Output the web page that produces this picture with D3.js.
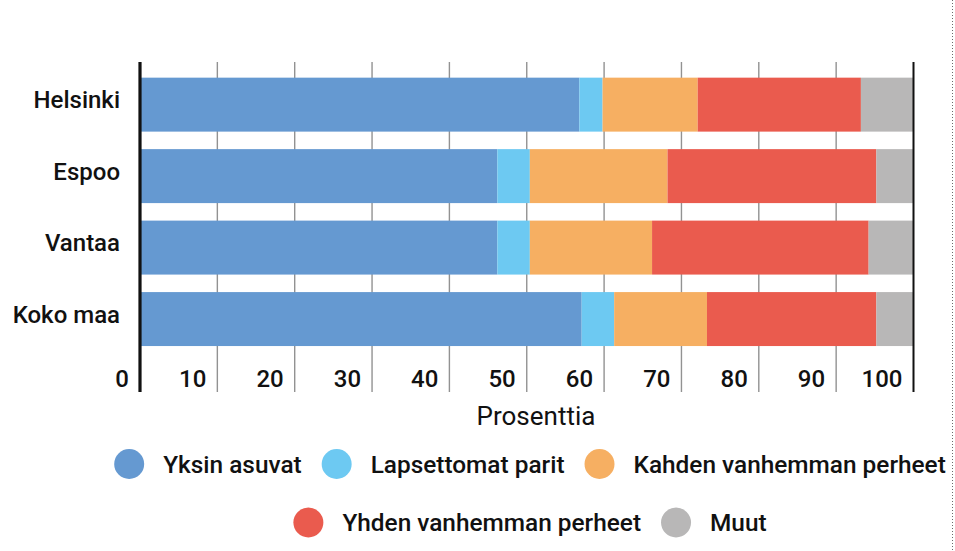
<!DOCTYPE html>
<html>
<head>
<meta charset="utf-8">
<script src="https://cdn.jsdelivr.net/npm/d3@7"></script>
<style>
  html, body { margin: 0; padding: 0; background: #ffffff; }
  svg { display: block; font-family: Roboto, "Noto Sans", sans-serif; }
</style>
</head>
<body>
<svg id="chart" width="955" height="551"></svg>
<script>
const categories = ["Helsinki", "Espoo", "Vantaa", "Koko maa"];
const seriesNames = ["Yksin asuvat", "Lapsettomat parit", "Kahden vanhemman perheet", "Yhden vanhemman perheet", "Muut"];
const yksinAsuvat       = [56.8, 46.2, 46.2, 57.1];
const lapsettomatParit  = [3.0, 4.2, 4.2, 4.2];
const kahdenVanhemman   = [12.3, 17.8, 15.8, 12.0];
const yhdenVanhemman    = [21.1, 27.0, 28.0, 21.9];
const muut              = [6.8, 4.8, 5.8, 4.8];
const tickValues = [0, 10, 20, 30, 40, 50, 60, 70, 80, 90, 100];
const xAxisTitle = "Prosenttia";
const colors = ["#6599d1", "#6dc9f2", "#f6af62", "#ea5b4e", "#b8b7b7"];

const seriesValues = [yksinAsuvat, lapsettomatParit, kahdenVanhemman, yhdenVanhemman, muut];
const rows = categories.map((c, i) => {
  const r = { category: c };
  seriesNames.forEach((s, j) => { r[s] = seriesValues[j][i]; });
  return r;
});

const svg = d3.select("#chart");
const x = d3.scaleLinear().domain([0, 100]).range([140, 913.5]);
const y = d3.scaleBand().domain(categories).range([68.9, 354.8]).paddingInner(0.245).paddingOuter(0.1225);
const color = d3.scaleOrdinal().domain(seriesNames).range(colors);

const stacked = d3.stack().keys(seriesNames)(rows);

// gridlines
const gridTop = 62, gridBottom = 392;
svg.append("g").selectAll("line").data(tickValues.slice(1, -1)).join("line")
  .attr("x1", d => x(d)).attr("x2", d => x(d))
  .attr("y1", gridTop).attr("y2", gridBottom)
  .attr("stroke", "#929292").attr("stroke-width", 1.4);

// bars
svg.append("g").selectAll("g").data(stacked).join("g")
  .attr("fill", d => color(d.key))
  .selectAll("rect").data(d => d).join("rect")
  .attr("x", d => x(d[0]))
  .attr("width", d => x(d[1]) - x(d[0]))
  .attr("y", d => y(d.data.category))
  .attr("height", y.bandwidth());

// axis lines
svg.append("line").attr("x1", x(0)).attr("x2", x(0)).attr("y1", gridTop).attr("y2", gridBottom)
  .attr("stroke", "#111").attr("stroke-width", 3.2);
svg.append("line").attr("x1", x(100)).attr("x2", x(100)).attr("y1", gridTop).attr("y2", gridBottom)
  .attr("stroke", "#111").attr("stroke-width", 2);

// tick labels
svg.append("g").selectAll("text").data(tickValues).join("text")
  .attr("x", d => x(d) - 11)
  .attr("y", 386.5)
  .attr("text-anchor", "end")
  .attr("font-size", 24).attr("font-weight", 500).attr("fill", "#111")
  .text(d => d);

// category labels
svg.append("g").selectAll("text").data(categories).join("text")
  .attr("x", 120)
  .attr("y", d => y(d) + y.bandwidth() / 2 - 5)
  .attr("dy", "0.36em")
  .attr("text-anchor", "end")
  .attr("font-size", 24).attr("font-weight", 500).attr("fill", "#111")
  .text(d => d);

// axis title
svg.append("text").attr("x", 536).attr("y", 425).attr("text-anchor", "middle")
  .attr("font-size", 26).attr("font-weight", 400).attr("fill", "#111").text(xAxisTitle);

// legend
const legendRows = [seriesNames.slice(0, 3), seriesNames.slice(3)];
const legendY = [464, 522.5];
const legendCenter = 530;
legendRows.forEach((names, ri) => {
  const g = svg.append("g");
  const items = g.selectAll("g").data(names).join("g");
  items.append("circle").attr("r", 15).attr("fill", d => color(d));
  items.append("text").attr("x", 34).attr("dy", "0.36em")
    .attr("font-size", 24.4).attr("font-weight", 500).attr("fill", "#111").text(d => d);
  let cx = 0;
  const positions = [];
  items.each(function () {
    const w = d3.select(this).select("text").node().getComputedTextLength();
    positions.push(cx);
    cx += 34 + w + 35;
  });
  const total = cx - 35 + 15;
  const start = legendCenter - total / 2 + 15;
  items.attr("transform", (d, i) => `translate(${start + positions[i]},${legendY[ri]})`);
});

// right-edge dotted border
svg.append("line").attr("x1", 952.5).attr("x2", 952.5).attr("y1", 0).attr("y2", 551)
  .attr("stroke", "#6b6b6b").attr("stroke-width", 1).attr("stroke-dasharray", "1,2");
</script>
</body>
</html>
